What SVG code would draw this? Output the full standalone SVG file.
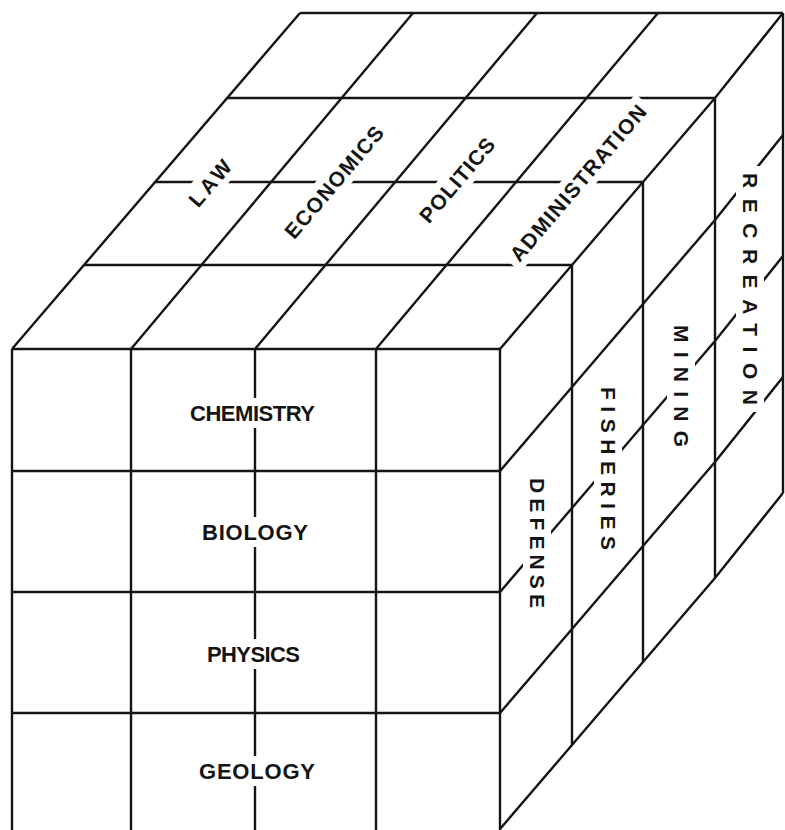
<svg xmlns="http://www.w3.org/2000/svg" width="785" height="830" viewBox="0 0 785 830">
<defs>
<style>
.ln{fill:none;stroke:#141414;stroke-width:2.4;stroke-linejoin:miter;stroke-linecap:butt}
.bg{fill:#ffffff;stroke:none}
</style>
</defs>
<rect x="0" y="0" width="785" height="830" fill="#ffffff"/>
<g id="grid">
  <g id="front-face">
    <path class="ln" d="M12 349H500M12 471H500M12 592H500M12 713H500"/>
    <path class="ln" d="M12 349V831M131 349V831M255 349V831M376 349V831M500 349V831"/>
  </g>
  <g id="top-face">
    <path class="ln" d="M12 349L300 13M131 349L413 13M255 349L537 13M376 349L658 13"/>
    <polyline class="ln" points="500,349 572,265 643,182 715,98 783,13"/>
    <path class="ln" d="M84 265H572M155 182H643M227 98H715M300 13H783"/>
  </g>
  <g id="side-face">
    <path class="ln" d="M572 265V745M643 182V662M715 98V578M783 13V493"/>
    <polyline class="ln" points="500,471 572,387 643,304 715,220 783,135"/>
    <polyline class="ln" points="500,592 572,508 643,425 715,341 783,256"/>
    <polyline class="ln" points="500,713 572,629 643,546 715,462 783,377"/>
    <polyline class="ln" points="500,829 572,745 643,662 715,578 783,493"/>
  </g>
</g>
<g id="labels" font-family="'Liberation Sans', Arial, sans-serif" font-weight="bold" fill="#141414">
  <g id="chemistry">
    <rect class="bg" x="186" y="398" width="133" height="30"/>
    <text x="190" y="421" font-size="22" textLength="125" lengthAdjust="spacing">CHEMISTRY</text>
  </g>
  <g id="biology">
    <rect class="bg" x="198" y="517" width="114" height="30"/>
    <text x="202" y="540" font-size="22" textLength="106" lengthAdjust="spacing">BIOLOGY</text>
  </g>
  <g id="physics">
    <rect class="bg" x="203" y="639" width="101" height="30"/>
    <text x="207" y="662" font-size="22" textLength="93" lengthAdjust="spacing">PHYSICS</text>
  </g>
  <g id="geology">
    <rect class="bg" x="195" y="756" width="124" height="30"/>
    <text x="199" y="779" font-size="22" textLength="116" lengthAdjust="spacing">GEOLOGY</text>
  </g>
  <g id="law" transform="translate(210,183) rotate(-49.6)">
    <rect class="bg" x="-33" y="-14" width="66" height="28"/>
    <text x="0" y="7.5" font-size="21" text-anchor="middle" textLength="54" lengthAdjust="spacing">LAW</text>
  </g>
  <g id="economics" transform="translate(334,182) rotate(-49.6)">
    <rect class="bg" x="-76" y="-14" width="152" height="28"/>
    <text x="0" y="7.5" font-size="21" text-anchor="middle" textLength="140" lengthAdjust="spacing">ECONOMICS</text>
  </g>
  <g id="politics" transform="translate(457,180) rotate(-49.6)">
    <rect class="bg" x="-58" y="-14" width="116" height="28"/>
    <text x="0" y="7.5" font-size="21" text-anchor="middle" textLength="104" lengthAdjust="spacing">POLITICS</text>
  </g>
  <g id="administration" transform="translate(578,183) rotate(-49.6)">
    <rect class="bg" x="-105" y="-14" width="210" height="28"/>
    <text x="0" y="7.5" font-size="21" text-anchor="middle" textLength="198" lengthAdjust="spacing">ADMINISTRATION</text>
  </g>
  <g id="recreation" transform="translate(750,173) rotate(90)">
    <rect class="bg" x="-7" y="-14" width="246" height="28"/>
    <text x="0" y="7.5" font-size="21" textLength="232" lengthAdjust="spacing">RECREATION</text>
  </g>
  <g id="mining" transform="translate(681,325) rotate(90)">
    <rect class="bg" x="-7" y="-14" width="136" height="28"/>
    <text x="0" y="7.5" font-size="21" textLength="122" lengthAdjust="spacing">MINING</text>
  </g>
  <g id="fisheries" transform="translate(608,387) rotate(90)">
    <rect class="bg" x="-7" y="-14" width="177" height="28"/>
    <text x="0" y="7.5" font-size="21" textLength="163" lengthAdjust="spacing">FISHERIES</text>
  </g>
  <g id="defense" transform="translate(537,478) rotate(90)">
    <rect class="bg" x="-7" y="-14" width="144" height="28"/>
    <text x="0" y="7.5" font-size="21" textLength="130" lengthAdjust="spacing">DEFENSE</text>
  </g>
</g>
</svg>
